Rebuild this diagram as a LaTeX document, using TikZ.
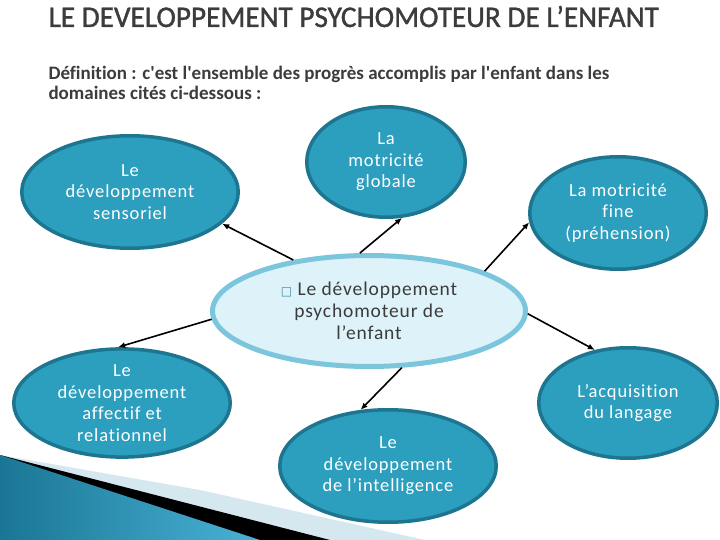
\documentclass[tikz,border=0pt]{standalone}
\usepackage{fontspec}
\setmainfont{Carlito}
\newfontfamily\titrefont{Carlito}[FakeStretch=0.975,FakeBold=1.2]
\newfontfamily\bullefont{Carlito}[LetterSpace=4.5,Ligatures=NoCommon]
\newfontfamily\deffont{Carlito}[Ligatures=NoCommon]
\newfontfamily\symbfont{DejaVu Sans}
\usepackage{tikz}
\usetikzlibrary{shapes.geometric,arrows.meta,positioning}

\definecolor{bleu}{HTML}{2C9EBE}
\definecolor{bordbleu}{HTML}{1E7590}
\definecolor{fondclair}{HTML}{DDF3F9}
\definecolor{bordclair}{HTML}{7CC6DD}
\definecolor{gristexte}{HTML}{3C3C3C}
\definecolor{carre}{HTML}{3F8CA5}
\definecolor{bande}{HTML}{D6E8EF}
\definecolor{bleufonce}{HTML}{1A7694}
\definecolor{bleuvif}{HTML}{4AB2D6}

\begin{document}
\begin{tikzpicture} [x=1pt,y=-1pt,node distance=2cm,on grid,>={Latex[length=7pt,width=6pt]},
    domaine/.style={ellipse,draw=bordbleu,line width=3.5pt,fill=bleu,text=white,align=center,inner sep=0pt,
        font=\bullefont\fontsize{18.5}{21.5}\selectfont},
    centre/.style={ellipse,draw=bordclair,line width=5pt,fill=fondclair,text=gristexte,align=center,inner sep=0pt,
        minimum width=313pt,minimum height=111pt,font=\bullefont\fontsize{19.5}{22}\selectfont}]
    \useasboundingbox[fill=white] (0,0) rectangle (720,540);

    % bandes en bas a gauche
    \fill[bande] (0,455) -- (200,490) -- (425,540) -- (0,540) -- cycle;
    \fill[black] (0,455) -- (330,540) -- (0,540) -- cycle;
    \shade[left color=bleufonce, right color=bleuvif] (0,455) -- (260,540) -- (0,540) -- cycle;

    \node[anchor=base west, text=gristexte, font=\titrefont\fontsize{30}{30}\selectfont] (titre) at (45,27)
        {LE DEVELOPPEMENT PSYCHOMOTEUR DE L’ENFANT};
    \node[anchor=base west, align=left, text=gristexte, font=\deffont\bfseries\fontsize{19}{20}\selectfont] (def) at (45,100)
        {Définition : c\textquotesingle est l\textquotesingle ensemble des progrès accomplis par l\textquotesingle enfant dans les\\domaines cités ci-dessous :};

    \node[centre] (c) at (369,311) {{\symbfont\fontsize{12}{12}\selectfont\textcolor{carre}{□}} Le développement\\psychomoteur de\\l’enfant};
    \node[domaine, minimum width=216.5pt, minimum height=112.5pt] (s) [above left=119pt and 239pt of c] {Le\\développement\\sensoriel};
    \node[domaine, minimum width=158.5pt, minimum height=110.5pt] (g) [above right=149pt and 17pt of c] {La\\motricité\\globale};
    \node[domaine, minimum width=176.5pt, minimum height=112.5pt] (f) [above right=98pt and 249pt of c] {La motricité\\fine\\(préhension)};
    \node[domaine, minimum width=178.5pt, minimum height=110.5pt] (l) [below right=92pt and 259pt of c] {L’acquisition\\du langage};
    \node[domaine, minimum width=216.5pt, minimum height=112.5pt] (i) [below right=155pt and 19pt of c] {Le\\développement\\de l’intelligence};
    \node[domaine, minimum width=216.5pt, minimum height=106.5pt] (a) [below left=92pt and 247pt of c] {Le\\développement\\affectif et\\relationnel};

    \draw[line width=1.6pt, ->] (c.146) -- (s.341);
    \draw[line width=1.6pt, ->] (c.99) -- (g.286);
    \draw[line width=1.6pt, ->] (c.19) -- (f.186);
    \draw[line width=1.6pt, ->] (c.359) -- (l.122);
    \draw[line width=1.6pt, ->] (c.300) -- (i.116);
    \draw[line width=1.6pt, ->] (c.183) -- (a.94);
\end{tikzpicture}
\end{document}
